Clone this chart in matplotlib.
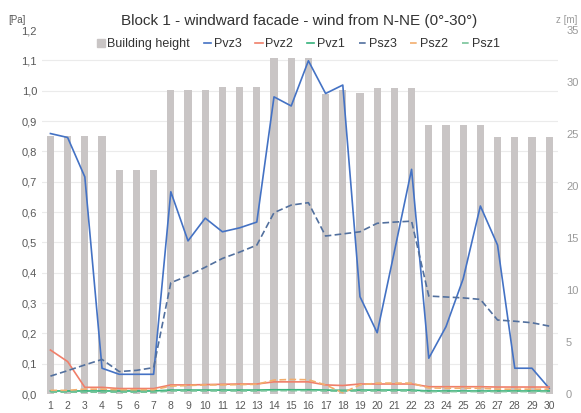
import matplotlib

matplotlib.use("Agg")
import matplotlib.pyplot as plt
from matplotlib.lines import Line2D
from matplotlib.patches import Patch
from matplotlib.ticker import FuncFormatter, MultipleLocator

plt.rcParams["font.family"] = ["Liberation Sans Narrow", "Liberation Sans", "DejaVu Sans"]

# data
points = list(range(1, 31))
building_height = [24.8, 24.8, 24.8, 24.8, 21.5, 21.5, 21.5, 29.2, 29.2, 29.2,
                   29.5, 29.5, 29.5, 32.3, 32.3, 32.3, 28.9, 29.2, 29.0, 29.4,
                   29.4, 29.4, 25.9, 25.9, 25.9, 25.9, 24.7, 24.7, 24.7, 24.7]
pvz3 = [0.859, 0.846, 0.716, 0.085, 0.065, 0.065, 0.065, 0.667, 0.505, 0.580,
        0.535, 0.548, 0.567, 0.980, 0.950, 1.099, 0.991, 1.019, 0.321, 0.202,
        0.470, 0.741, 0.118, 0.222, 0.380, 0.620, 0.491, 0.085, 0.085, 0.019]
pvz2 = [0.145, 0.107, 0.022, 0.022, 0.018, 0.018, 0.018, 0.030, 0.030, 0.031,
        0.032, 0.033, 0.033, 0.040, 0.040, 0.040, 0.030, 0.028, 0.033, 0.033,
        0.033, 0.033, 0.024, 0.024, 0.024, 0.024, 0.023, 0.023, 0.023, 0.023]
pvz1 = [0.010, 0.010, 0.010, 0.010, 0.010, 0.010, 0.010, 0.013, 0.013, 0.013,
        0.013, 0.013, 0.013, 0.014, 0.014, 0.014, 0.013, 0.012, 0.013, 0.013,
        0.013, 0.013, 0.010, 0.010, 0.010, 0.010, 0.010, 0.010, 0.010, 0.010]
psz3 = [0.059, 0.077, 0.096, 0.114, 0.074, 0.078, 0.087, 0.367, 0.390, 0.418,
        0.447, 0.468, 0.491, 0.598, 0.623, 0.631, 0.521, 0.528, 0.535, 0.563,
        0.567, 0.570, 0.323, 0.320, 0.317, 0.312, 0.244, 0.240, 0.235, 0.224]
psz2 = [0.012, 0.012, 0.016, 0.016, 0.014, 0.014, 0.014, 0.026, 0.028, 0.030,
        0.030, 0.031, 0.032, 0.046, 0.048, 0.047, 0.030, 0.004, 0.030, 0.036,
        0.036, 0.036, 0.020, 0.019, 0.019, 0.019, 0.016, 0.016, 0.016, 0.016]
psz1 = [0.006, 0.006, 0.006, 0.006, 0.006, 0.006, 0.006, 0.010, 0.010, 0.010,
        0.010, 0.010, 0.010, 0.011, 0.011, 0.011, 0.010, 0.009, 0.010, 0.010,
        0.010, 0.010, 0.008, 0.008, 0.008, 0.008, 0.008, 0.008, 0.008, 0.008]

series = [
    ("Pvz3", pvz3, "#4472C4", "-"),
    ("Pvz2", pvz2, "#F07F6A", "-"),
    ("Pvz1", pvz1, "#33B27A", "-"),
    ("Psz3", psz3, "#52709E", (0, (4, 2))),
    ("Psz2", psz2, "#F2AE6E", (0, (4, 2))),
    ("Psz1", psz1, "#78C49A", (0, (4, 2))),
]

bar_color = "#C9C5C5"
tick_color = "#595959"

fig = plt.figure(figsize=(5.81, 4.13), dpi=100)
ax = fig.add_axes([0.072, 0.046, 0.888, 0.881])
ax2 = ax.twinx()

# bars on the right axis, behind the lines
ax2.bar(points, building_height, width=0.42, color=bar_color, zorder=2)
ax2.set_ylim(0, 35)
ax2.yaxis.set_major_locator(MultipleLocator(5))
ax2.yaxis.set_minor_locator(MultipleLocator(35 / 12))
ax2.grid(which="minor", axis="y", color="#EBEBEB", linewidth=0.8, zorder=0)
ax2.set_axisbelow(True)
ax2.tick_params(axis="y", which="both", length=0, colors="#9A9A9A", labelsize=8, pad=6)

ax.set_zorder(ax2.get_zorder() + 1)
ax.patch.set_visible(False)
for name, vals, color, ls in series:
    ax.plot(points, vals, color=color, linestyle=ls, linewidth=1.2, label=name)

ax.set_xlim(0.5, 30.5)
ax.set_ylim(0, 1.2)
ax.yaxis.set_major_locator(MultipleLocator(0.1))
ax.yaxis.set_major_formatter(FuncFormatter(lambda v, p: f"{v:.1f}".replace(".", ",")))
ax.set_xticks(points)
ax.tick_params(axis="both", length=0, colors=tick_color, labelsize=8)
ax.tick_params(axis="x", labelsize=7.5, pad=5)

for a in (ax, ax2):
    for s in a.spines.values():
        s.set_visible(False)

fig.text(0.03, 0.945, "[Pa]", fontsize=7, color=tick_color, ha="center")
fig.text(0.975, 0.945, "z [m]", fontsize=7, color="#9A9A9A", ha="center")

fig.text(0.515, 0.95, "Block 1 - windward facade - wind from N-NE (0°-30°)",
         fontsize=11, color="#333333", ha="center", va="center")

handles = [Patch(color=bar_color, label="Building height")]
for name, vals, color, ls in series:
    handles.append(Line2D([], [], color=color, linestyle=ls, linewidth=1.2, label=name))
fig.legend(handles=handles, loc="center", bbox_to_anchor=(0.514, 0.893), ncol=7,
           frameon=False, fontsize=9, handlelength=0.6, handleheight=0.6,
           handletextpad=0.2, columnspacing=1.1, labelcolor="#333333")

fig.savefig("out.png", dpi=100)
